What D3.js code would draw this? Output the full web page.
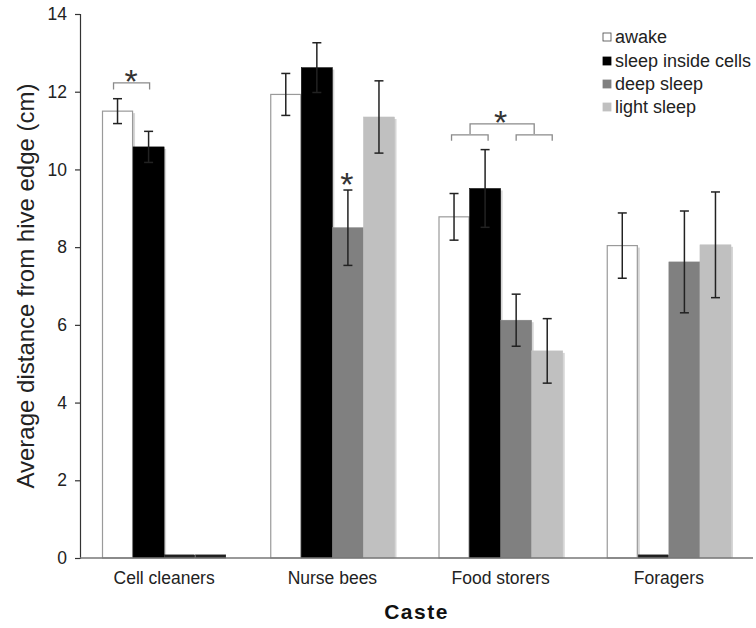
<!DOCTYPE html>
<html>
<head>
<meta charset="utf-8">
<script src="https://cdn.jsdelivr.net/npm/d3@7"></script>
<style>
  html, body { margin: 0; padding: 0; background: #fff; }
  svg { display: block; font-family: "Liberation Sans", Arial, Helvetica, sans-serif; }
</style>
</head>
<body>
<svg id="chart" width="756" height="628"></svg>
<script>
// Castes and sleep states
const categories = ["Cell cleaners", "Nurse bees", "Food storers", "Foragers"];
const seriesNames = ["awake", "sleep inside cells", "deep sleep", "light sleep"];

// Mean distance from hive edge (cm) and standard error per caste
const awake = [11.50, 11.93, 8.78, 8.04];
const awakeErr = [0.32, 0.54, 0.60, 0.84];
const insideCells = [10.58, 12.62, 9.51, 0.08];
const insideCellsErr = [0.40, 0.64, 1.00, null];
const deepSleep = [0.08, 8.50, 6.12, 7.62];
const deepSleepErr = [null, 0.97, 0.67, 1.31];
const lightSleep = [0.08, 11.35, 5.33, 8.06];
const lightSleepErr = [null, 0.93, 0.83, 1.36];

const yTicks = [0, 2, 4, 6, 8, 10, 12, 14];

const seriesFill = ["#ffffff", "#000000", "#808080", "#c0c0c0"];
const seriesStroke = ["#9a9a9a", "#000000", "#808080", "#c0c0c0"];

const means = [awake, insideCells, deepSleep, lightSleep];
const errs = [awakeErr, insideCellsErr, deepSleepErr, lightSleepErr];

const rows = [];
categories.forEach((c, ci) => {
  seriesNames.forEach((s, si) => {
    rows.push({ cat: c, series: s, si, value: means[si][ci], err: errs[si][ci] });
  });
});

const svg = d3.select("#chart");
const plotLeft = 80, plotRight = 753, plotTop = 14, plotBottom = 558;

const x0 = d3.scaleBand().domain(categories).range([plotLeft, plotRight]);
const x1 = d3.scaleBand().domain(seriesNames).range([22, x0.bandwidth() - 22]);
const y = d3.scaleLinear().domain([0, 14]).range([plotBottom, plotTop]);

const cx = d => x0(d.cat) + x1(d.series) + x1.bandwidth() / 2;

// bar shadows
svg.append("g").selectAll("rect").data(rows.filter(d => d.value > 0.2)).join("rect")
  .attr("x", d => x0(d.cat) + x1(d.series) + 2)
  .attr("y", d => y(d.value) + 2)
  .attr("width", x1.bandwidth())
  .attr("height", d => plotBottom - y(d.value) - 2)
  .attr("fill", "#d6d6d6");

// bars (near-zero values show as a thin dark strip)
svg.append("g").selectAll("rect").data(rows).join("rect")
  .attr("x", d => x0(d.cat) + x1(d.series) + (d.si === 0 ? 0.5 : 0) + (d.value < 0.2 ? 0.5 : 0))
  .attr("y", d => y(d.value))
  .attr("width", d => x1.bandwidth() - (d.si === 0 ? 1 : 0) - (d.value < 0.2 ? 1 : 0))
  .attr("height", d => plotBottom - y(d.value))
  .attr("fill", d => d.value < 0.2 ? "#222" : seriesFill[d.si])
  .attr("stroke", d => d.value < 0.2 ? "#111" : seriesStroke[d.si])
  .attr("stroke-width", d => d.si === 0 ? 1.2 : 0.5);

// error bars
const eb = svg.append("g").attr("stroke", "#222").attr("stroke-width", 1.5).attr("fill", "none");
const withErr = rows.filter(d => d.err != null);
eb.selectAll("line.v").data(withErr).join("line").attr("class", "v")
  .attr("x1", cx).attr("x2", cx)
  .attr("y1", d => y(d.value + d.err)).attr("y2", d => y(d.value - d.err));
eb.selectAll("line.t").data(withErr).join("line").attr("class", "t")
  .attr("x1", d => cx(d) - 4.5).attr("x2", d => cx(d) + 4.5)
  .attr("y1", d => y(d.value + d.err)).attr("y2", d => y(d.value + d.err));
eb.selectAll("line.b").data(withErr).join("line").attr("class", "b")
  .attr("x1", d => cx(d) - 4.5).attr("x2", d => cx(d) + 4.5)
  .attr("y1", d => y(d.value - d.err)).attr("y2", d => y(d.value - d.err));

// axes
const yAxis = d3.axisLeft(y).tickValues(yTicks).tickSize(5).tickPadding(8).tickFormat(d3.format("d"));
const gy = svg.append("g").attr("transform", `translate(${plotLeft},0)`).call(yAxis);
gy.select(".domain").attr("stroke", "#333").attr("stroke-width", 1.2);
gy.selectAll(".tick line").attr("stroke", "#333").attr("stroke-width", 1.2);
gy.selectAll(".tick text").attr("font-size", 17.5).attr("fill", "#222")
  .attr("font-family", "Liberation Sans, Arial, sans-serif");

svg.append("line").attr("x1", plotLeft).attr("x2", plotRight).attr("y1", plotBottom).attr("y2", plotBottom)
  .attr("stroke", "#777").attr("stroke-width", 1.5);

// category labels
svg.append("g").selectAll("text").data(categories).join("text")
  .attr("x", d => x0(d) + x0.bandwidth() / 2)
  .attr("y", 584)
  .attr("text-anchor", "middle")
  .attr("font-size", 17.5)
  .attr("fill", "#222")
  .text(d => d);

svg.append("text").attr("x", (plotLeft + plotRight) / 2).attr("y", 619)
  .attr("text-anchor", "middle").attr("font-size", 21).attr("font-weight", "bold")
  .attr("letter-spacing", 1.5).attr("fill", "#111").text("Caste");

svg.append("text").attr("transform", "translate(34,286) rotate(-90)")
  .attr("text-anchor", "middle").attr("font-size", 24).attr("fill", "#222")
  .text("Average distance from hive edge (cm)");

// significance brackets
const bx = (ci, si) => x0(categories[ci]) + x1(seriesNames[si]) + x1.bandwidth() / 2;
const br = svg.append("g").attr("stroke", "#8a8a8a").attr("stroke-width", 1.3).attr("fill", "none");
function bracket(xa, xb, yTop, yLeg) {
  br.append("path").attr("d", `M${xa},${y(yLeg)}V${y(yTop)}H${xb}V${y(yLeg)}`);
}
bracket(bx(0, 0) - 4, bx(0, 1) + 1, 12.23, 12.06);
bracket(bx(2, 0) - 2.5, bx(2, 1) + 3, 10.89, 10.74);
bracket(bx(2, 2), bx(2, 3) + 5, 10.89, 10.74);
bracket((bx(2, 0) + bx(2, 1)) / 2 + 0.5, (bx(2, 2) + bx(2, 3)) / 2 + 2.5, 11.17, 10.91);

const star = svg.append("g").attr("font-size", 34).attr("fill", "#333").attr("text-anchor", "middle");
star.append("text").attr("x", (bx(0, 0) + bx(0, 1)) / 2 - 2).attr("y", y(12.48) + 20).text("*");
star.append("text").attr("x", bx(1, 2) - 1).attr("y", y(9.83) + 20).text("*");
star.append("text").attr("x", (bx(2, 1) + bx(2, 2)) / 2).attr("y", y(11.43) + 20).text("*");

// legend
const lg = svg.append("g").attr("transform", "translate(603,0)");
const ly = [37, 61, 84, 107];
seriesNames.forEach((s, i) => {
  lg.append("rect").attr("x", 0).attr("y", ly[i] - 4).attr("width", 8).attr("height", 8)
    .attr("fill", i === 0 ? "#fff" : seriesFill[i])
    .attr("stroke", i === 0 ? "#444" : seriesFill[i]).attr("stroke-width", 0.8);
  lg.append("text").attr("x", 12).attr("y", ly[i] + 6).attr("font-size", 18)
    .attr("fill", "#222").text(s);
});
</script>
</body>
</html>
